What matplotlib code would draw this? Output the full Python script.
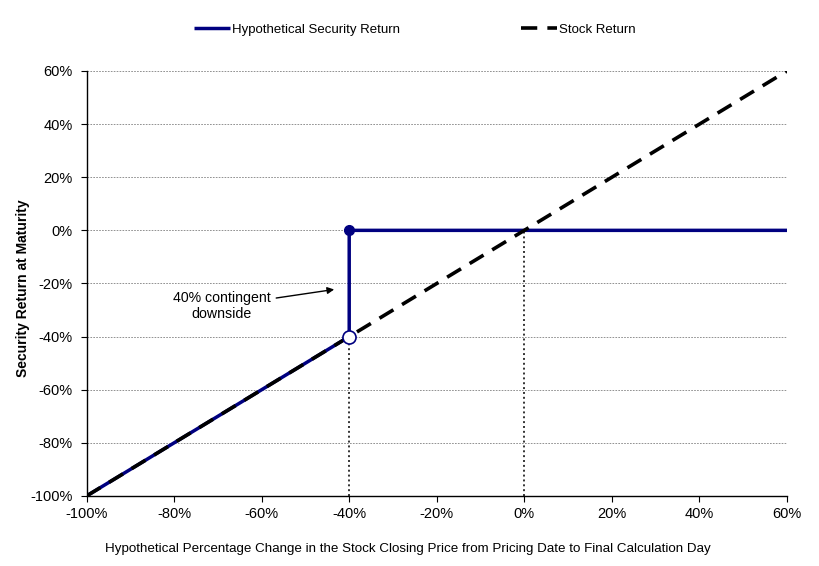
import matplotlib
matplotlib.use("Agg")
import matplotlib.pyplot as plt
from matplotlib.ticker import FuncFormatter

plt.rcParams["font.family"] = ["Liberation Sans", "DejaVu Sans"]

# ── data ─────────────────────────────────────────────────────────────────────
stock_x = [-100, 60]
stock_y = [-100, 60]

security_x = [-100, -40, -40, 60]
security_y = [-100, -40, 0, 0]

barrier = -40
xticks = [-100, -80, -60, -40, -20, 0, 20, 40, 60]
yticks = [-100, -80, -60, -40, -20, 0, 20, 40, 60]

navy = "#000080"

fig = plt.figure(figsize=(8.2, 5.66), dpi=100)
ax = fig.add_axes([0.1055, 0.1237, 0.8543, 0.7509])

ax.set_xlim(-100, 60)
ax.set_ylim(-100, 60)

for y in yticks[1:]:
    ax.axhline(y, color="#808080", linestyle=(0, (2, 1.5)), linewidth=0.6, zorder=0)

# dotted drop lines
ax.plot([barrier, barrier], [-100, barrier], color="#333333", linestyle=(0, (1, 1.5)),
        linewidth=1.4, zorder=1)
ax.plot([0, 0], [-100, 0], color="#333333", linestyle=(0, (1, 1.5)),
        linewidth=1.4, zorder=1)

ax.plot(security_x, security_y, color=navy, linewidth=2.5, zorder=2,
        label="Hypothetical Security Return", solid_capstyle="butt")
ax.plot(stock_x, stock_y, color="black", linewidth=2.6, linestyle=(0, (4.5, 2.8)), zorder=3,
        label="Stock Return")

ax.plot([barrier], [0], "o", color=navy, markersize=7, zorder=4)
ax.plot([barrier], [barrier], "o", markerfacecolor="white", markeredgecolor=navy,
        markeredgewidth=1.2, markersize=9.4, zorder=5)

ax.annotate("40% contingent\ndownside", xy=(-42.8, -22.1), xytext=(-69.1, -28.5),
            ha="center", va="center", fontsize=10.2,
            arrowprops=dict(arrowstyle="-|>", color="black", lw=1, mutation_scale=10))

pct = FuncFormatter(lambda v, p: f"{v:.0f}%")
ax.set_xticks(xticks)
ax.set_yticks(yticks)
ax.xaxis.set_major_formatter(pct)
ax.yaxis.set_major_formatter(pct)
ax.tick_params(direction="out", length=4, width=0.8, labelsize=10.5)
ax.tick_params(axis="y", pad=6)
ax.tick_params(axis="x", pad=4)

for s in ["top", "right"]:
    ax.spines[s].set_visible(False)
for s in ["left", "bottom"]:
    ax.spines[s].set_linewidth(1.0)

ax.set_xlabel("Hypothetical Percentage Change in the Stock Closing Price from Pricing Date to Final Calculation Day",
              fontsize=9.6)
ax.xaxis.set_label_coords(0.4585, -0.110)
ax.set_ylabel("Security Return at Maturity", fontsize=10, fontweight="bold")
ax.yaxis.set_label_coords(-0.080, 0.49)

fig.legend(loc="center", bbox_to_anchor=(0.506, 0.948), ncol=2, frameon=False,
           fontsize=9.5, handlelength=2.7, handletextpad=0.15, columnspacing=9.2)

fig.savefig("out.png", dpi=100)
